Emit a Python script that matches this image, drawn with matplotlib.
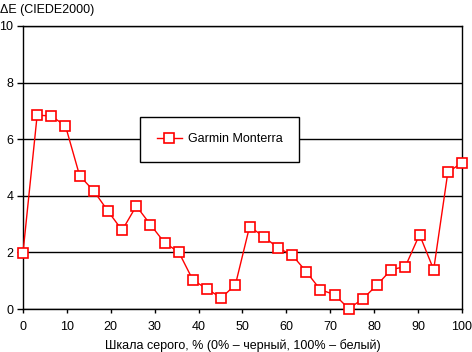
import numpy as np
import matplotlib
matplotlib.use("Agg")
import matplotlib.pyplot as plt

plt.rcParams['font.family'] = ['Liberation Sans', 'DejaVu Sans']

# grey scale steps, % (32 evenly spaced points from 0 to 100)
GREY_PCT = np.linspace(0, 100, 32)
DELTA_E = [1.99, 6.85, 6.82, 6.47, 4.71, 4.17, 3.46, 2.78, 3.64, 2.98, 2.34,
           2.01, 1.02, 0.71, 0.39, 0.86, 2.91, 2.56, 2.16, 1.91, 1.32, 0.68,
           0.51, 0.01, 0.36, 0.85, 1.39, 1.50, 2.63, 1.39, 4.83, 5.17]
SERIES_NAME = "Garmin Monterra"
X_TICKS = [0, 10, 20, 30, 40, 50, 60, 70, 80, 90, 100]
Y_TICKS = [0, 2, 4, 6, 8, 10]

W, H = 472, 352
fig = plt.figure(figsize=(W / 100, H / 100), dpi=100)
ax = fig.add_axes([23 / W, 1 - 309 / H, (462 - 23) / W, (309 - 26) / H])

ax.plot(GREY_PCT, DELTA_E, color="#ff0000", linewidth=1,
        marker="s", markersize=7, markerfacecolor="white",
        markeredgecolor="#ff0000", markeredgewidth=1.2,
        label=SERIES_NAME, zorder=3, clip_on=False)

ax.set_xlim(0, 100)
ax.set_ylim(0, 10)
ax.set_xticks(X_TICKS)
ax.set_yticks(Y_TICKS)
ax.tick_params(axis="both", direction="out", length=4, width=1,
               labelsize=9, colors="black", pad=3)
ax.tick_params(axis="x", length=3, pad=6)

# horizontal gridlines
ax.grid(axis="y", color="black", linewidth=1)
ax.set_axisbelow(True)
for s in ax.spines.values():
    s.set_color("black")
    s.set_linewidth(1)

fig.text(0, 1 - 10 / H, "ΔE (CIEDE2000)", fontsize=9, va="center", ha="left")
ax.set_xlabel("Шкала серого, % (0% – черный, 100% – белый)", fontsize=9,
              labelpad=4)

leg = ax.legend(loc="upper left",
                bbox_to_anchor=((140 - 23) / (462 - 23), (309 - 116.5) / (309 - 26)),
                frameon=True, fancybox=False, fontsize=9,
                handlelength=2.0, borderpad=1.35, borderaxespad=0,
                handletextpad=0.45)
leg.get_frame().set_edgecolor("black")
leg.get_frame().set_linewidth(1)
leg.get_frame().set_alpha(1)

fig.savefig("out.png", dpi=100)
